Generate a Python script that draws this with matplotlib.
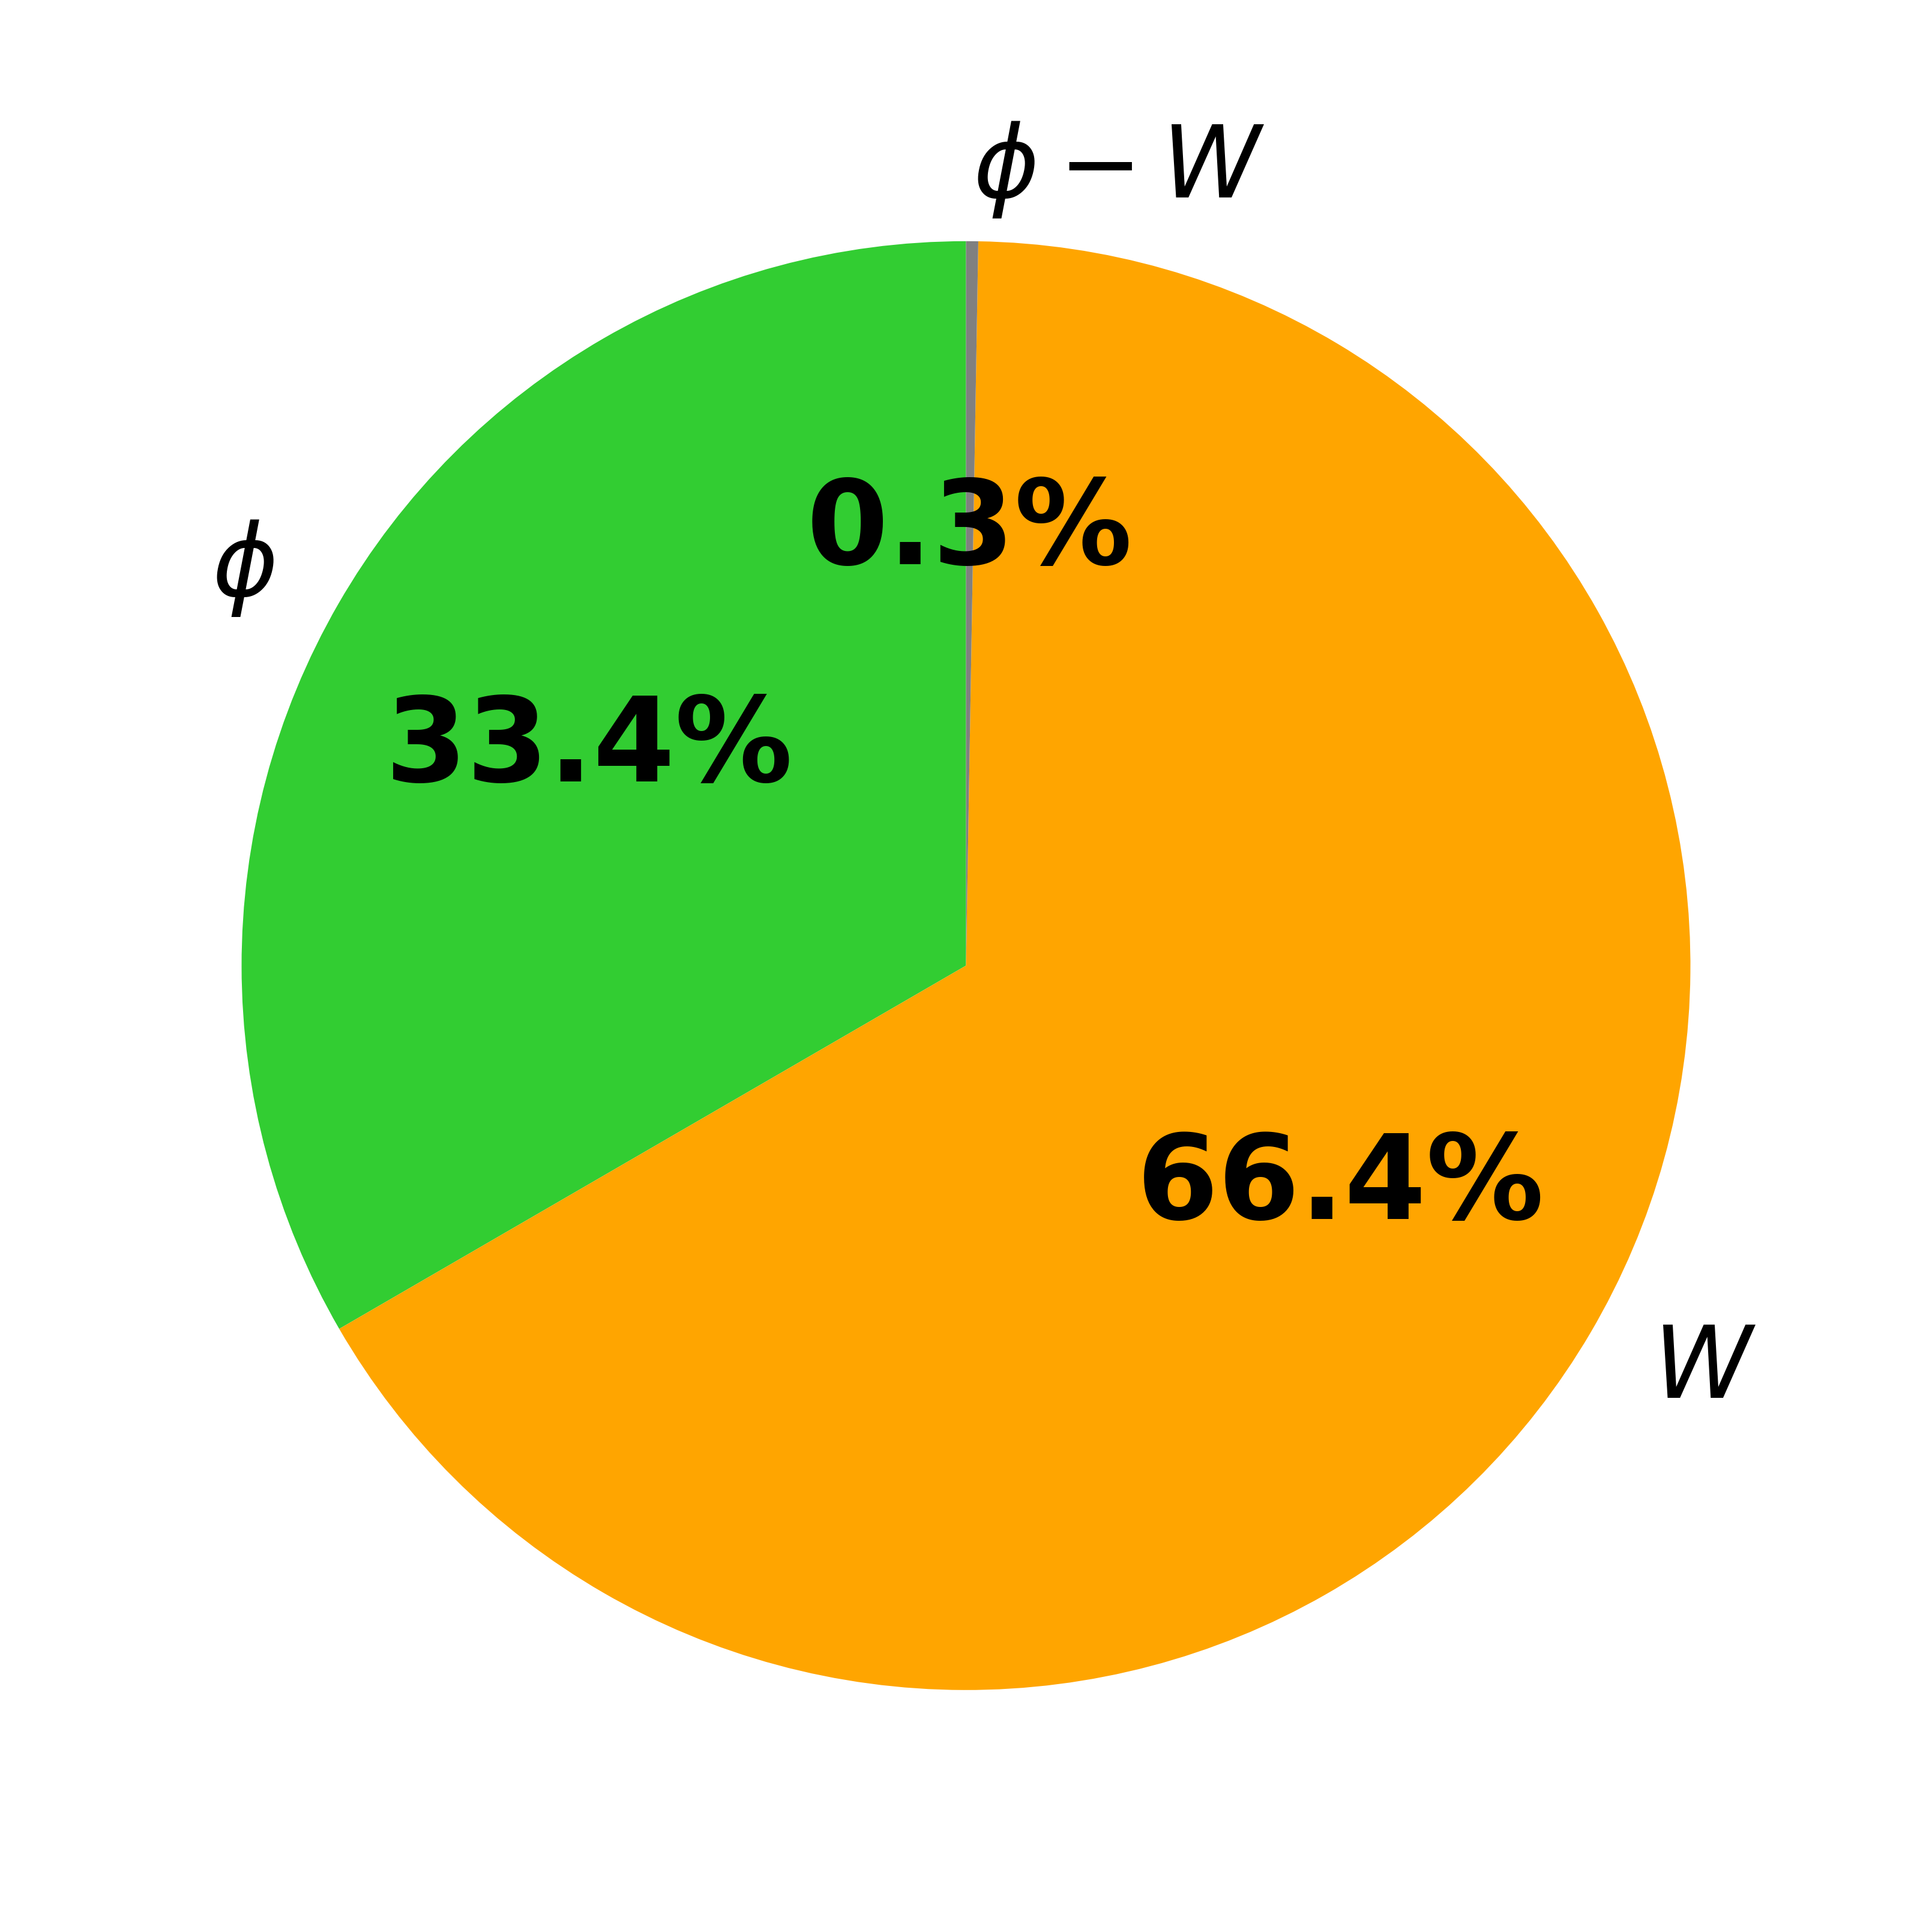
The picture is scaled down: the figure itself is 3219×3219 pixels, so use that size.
# pie chart of the share of phi, W and phi - W
import matplotlib.pyplot as plt

# slice names and shares (percent)
labels = [r'$\phi$', r'$W$', r'$\phi - W$']
shares = [33.36, 66.37, 0.27]
colors = ['limegreen', 'orange', 'gray']

fig = plt.figure(figsize=(3219 / 300, 3220 / 300), dpi=300)
ax = fig.add_axes([0.0313, 0.0315, 0.9374, 0.9371])

wedges, texts, autotexts = ax.pie(shares, labels=labels, colors=colors,
                                  autopct='%1.1f%%', startangle=90,
                                  pctdistance=0.6, labeldistance=1.1,
                                  textprops={'fontsize': 40})
for t in autotexts:
    t.set_fontsize(47)
    t.set_fontweight('bold')

ax.set_xlim(-1.25, 1.25)
ax.set_ylim(-1.25, 1.25)
ax.set_aspect('equal')

plt.savefig('out.png', dpi=300)
